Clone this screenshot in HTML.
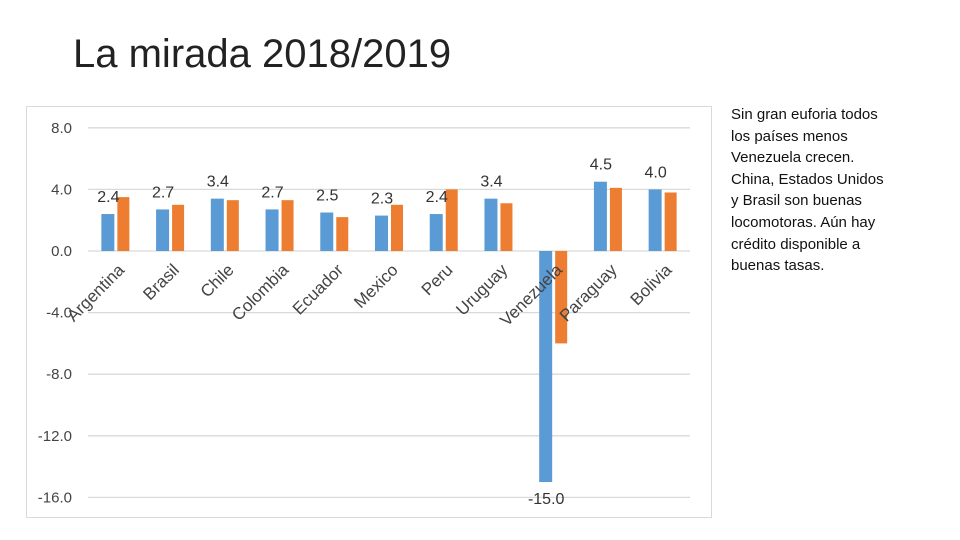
<!DOCTYPE html>
<html><head><meta charset="utf-8"><style>
body{margin:0;width:960px;height:540px;background:#fff;overflow:hidden;font-family:"Liberation Sans",sans-serif;position:relative}
#title{position:absolute;left:73px;top:32px;font-size:40px;color:#222;white-space:nowrap}
#note{position:absolute;left:731px;top:104px;width:200px;font-size:15px;line-height:21.6px;color:#111;white-space:nowrap}
svg{position:absolute;left:0;top:0}
</style></head><body>
<div id="title">La mirada 2018/2019</div>
<div id="note">Sin gran euforia todos<br>los países menos<br>Venezuela crecen.<br>China, Estados Unidos<br>y Brasil son buenas<br>locomotoras. Aún hay<br>crédito disponible a<br>buenas tasas.</div>
<svg id="chart" width="960" height="540"></svg>
<script>
const categories=["Argentina","Brasil","Chile","Colombia","Ecuador","Mexico","Peru","Uruguay","Venezuela","Paraguay","Bolivia"];
const series2018=[2.4,2.7,3.4,2.7,2.5,2.3,2.4,3.4,-15.0,4.5,4.0];
const series2019=[3.5,3.0,3.3,3.3,2.2,3.0,4.0,3.1,-6.0,4.1,3.8];
const yTicks=[8,4,0,-4,-8,-12,-16];
const NS="http://www.w3.org/2000/svg";
const svg=document.getElementById('chart');
const plotL=88,plotR=690;
const y0=251,ppu=15.4;
function y(v){return y0-v*ppu;}
const step=(plotR-plotL)/categories.length;
function xc(i){return plotL+step*(i+0.5);}
function mk(t,a){const e=document.createElementNS(NS,t);for(const k in a)e.setAttribute(k,a[k]);svg.appendChild(e);return e;}
let b=mk('rect',{x:26.5,y:106.5,width:685,height:411,fill:'none',stroke:'#d9d9d9'});


yTicks.forEach(t=>{
 const g=mk('line',{x1:plotL,x2:plotR,y1:y(t),y2:y(t),stroke:'#d9d9d9','stroke-width':1.3});
 
 
 const l=mk('text',{x:72,y:y(t)+5,'text-anchor':'end','font-size':15,fill:'#444'});
 l.textContent=t.toFixed(1);
 
 
});
categories.forEach((c,i)=>{
 const cx=xc(i);
 const v1=series2018[i],v2=series2019[i];
 const r1=mk('rect',{x:cx-14,y:Math.min(y(v1),y0),width:13,height:Math.abs(y(v1)-y0),fill:'#5b9bd5'});
 
 
 const r2=mk('rect',{x:cx+2,y:Math.min(y(v2),y0),width:12,height:Math.abs(y(v2)-y0),fill:'#ed7d31'});
 
 
 const ly=v1>=0?y(v1)-12:y(v1)+22;
 const lab=mk('text',{x:cx-7,y:ly,'text-anchor':'middle','font-size':16,fill:'#333'});
 lab.textContent=v1.toFixed(1);
 
 
 const cl=mk('text',{x:0,y:0,'text-anchor':'end','font-size':17,fill:'#444',transform:`translate(${cx+10},${y0+20}) rotate(-45)`});
 cl.textContent=c;
 
 
});
</script>
</body></html>
